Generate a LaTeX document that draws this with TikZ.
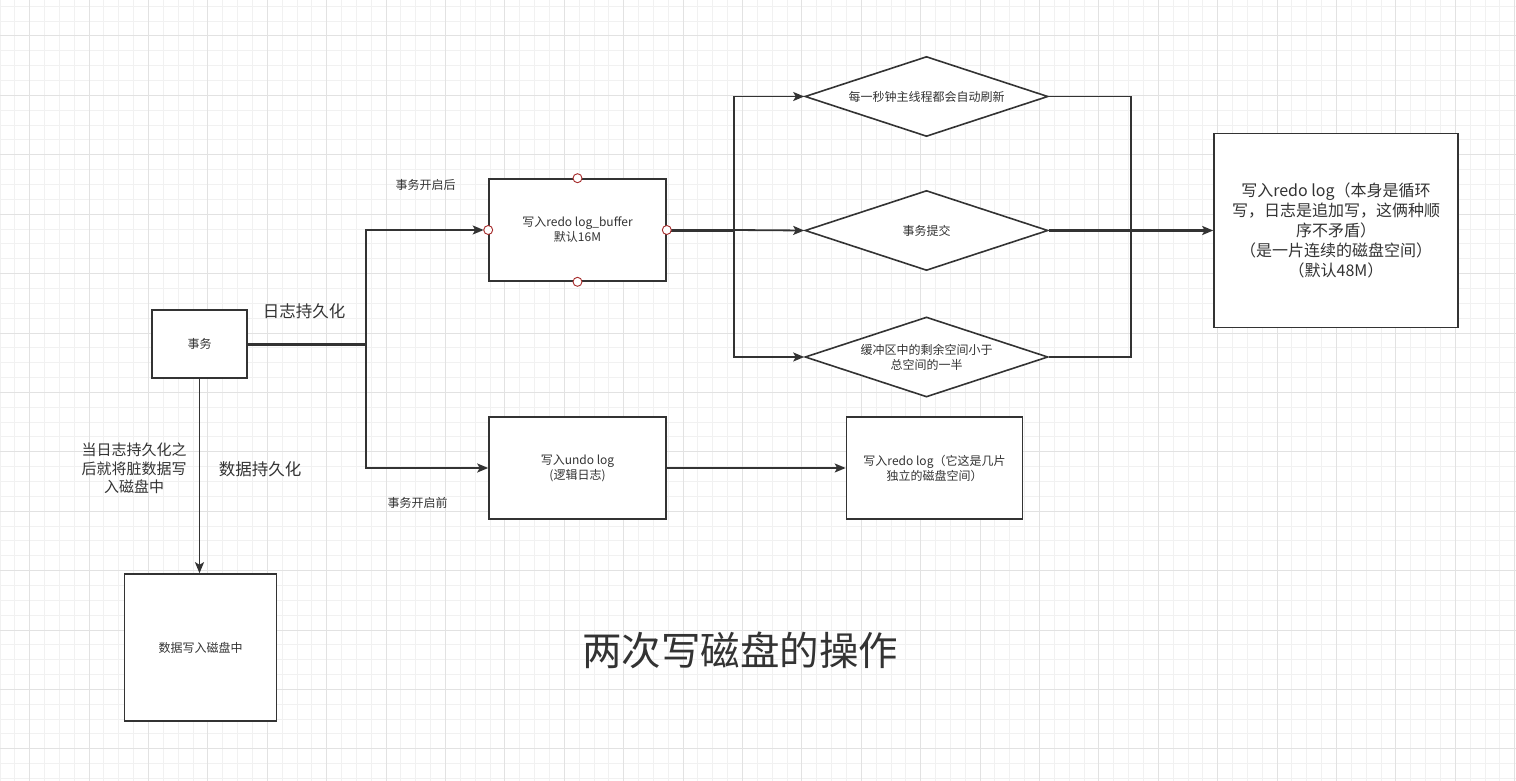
\documentclass[tikz,border=0pt]{standalone}
\usepackage{fontspec}
\setmainfont{Noto Sans CJK SC}
\usepackage{tikz}
\usetikzlibrary{positioning, arrows.meta, shapes.geometric}
\definecolor{LineGray}{HTML}{333333}
\definecolor{TextGray}{HTML}{333333}
\definecolor{GridMinor}{HTML}{F1F1F1}
\definecolor{GridMajor}{HTML}{E2E2E2}
\definecolor{PortRed}{HTML}{A52A2A}
\newcommand{\txtsmall}{\fontsize{12}{15}\selectfont}
\newcommand{\txtmid}{\fontsize{15}{18.5}\selectfont}
\newcommand{\txtlarge}{\fontsize{16.5}{20}\selectfont}
\newcommand{\txtbig}{\fontsize{16}{20}\selectfont}
\newcommand{\txttitle}{\fontsize{39.5}{46}\selectfont}

\begin{document}
\begin{tikzpicture}[
    x=1pt, y=-1pt,
    box/.style={rectangle, draw=LineGray, line width=1.6pt, fill=white, inner sep=0pt,
                align=center, text=TextGray, font=\txtsmall},
    decision/.style={diamond, draw=LineGray, line width=1.6pt, fill=white, inner sep=0pt,
                     shape aspect=3, minimum width=243, minimum height=80,
                     align=center, text=TextGray, font=\txtsmall},
    conn/.style={-{Stealth[length=11pt, width=9pt, inset=2.5pt]}, line width=1.8pt, draw=LineGray},
    line/.style={line width=1.8pt, draw=LineGray},
    thickline/.style={line width=3pt, draw=LineGray},
    lbl/.style={align=center, text=TextGray, font=\txtsmall},
    port/.style={draw=PortRed, fill=white, line width=0.9pt},
    gridminor/.style={draw=GridMinor, line width=1pt},
    gridmajor/.style={draw=GridMajor, line width=1pt}
]
  \useasboundingbox (0,0) rectangle (1516,781);
  \fill[white] (0,0) rectangle (1516,781);

  % Grid
  \foreach \i in {0,...,102}{
    \draw[gridminor] ({\i*14.85},0) -- ++(0,781);
  }
  \foreach \j in {0,...,52}{
    \draw[gridminor] (0,{6.3+\j*14.85}) -- ++(1516,0);
  }
  \foreach \i in {0,...,25}{
    \draw[gridmajor] ({29.7+\i*59.4},0) -- ++(0,781);
  }
  \foreach \j in {0,...,12}{
    \draw[gridmajor] (0,{36+\j*59.4}) -- ++(1516,0);
  }

  % Boxes
  \node[box, minimum width=95, minimum height=68] (tx) at (199.5,344) {事务};
  \node[box, minimum width=177, minimum height=102] (buf) at (577.5,230) {写入redo log\_buffer\\默认16M};
  \node[box, minimum width=177, minimum height=102] (undo) at (577.5,468) {写入undo log\\(逻辑日志)};
  \node[box, minimum width=176, minimum height=102] (redoseg) at (934.5,468) {写入redo log（它这是几片\\独立的磁盘空间）};
  \node[box, minimum width=152, minimum height=147] (disk) at (200.5,647.5) {数据写入磁盘中};
  \node[box, minimum width=244, minimum height=194, font=\txtbig] (redo) at (1336,230.5)
    {写入redo log（本身是循环\\写，日志是追加写，这俩种顺\\序不矛盾）\\（是一片连续的磁盘空间）\\（默认48M）};

  % Decisions
  \node[decision] (tick) at (926.5,96.5) {每一秒钟主线程都会自动刷新};
  \node[decision] (commit) at (926.5,230.5) {事务提交};
  \node[decision] (half) at (926.5,357) {缓冲区中的剩余空间小于\\总空间的一半};

  % Junctions
  \coordinate (split) at (366,344);
  \coordinate (fan) at (734,230);
  \coordinate (join) at (1131,230.5);

  % Connections
  \draw[thickline] (tx.east) -- (split);
  \draw[conn, shorten >=4.5pt] (split) |- (buf.west);
  \draw[conn] (split) |- (undo.west);
  \draw[conn] (tx.south) -- (tx.south |- disk.north);
  \draw[conn] (undo.east) -- (redoseg.west);
  \draw[thickline] (buf.east) -- (fan);
  \draw[conn] (fan) |- (tick.west);
  \draw[conn] (fan) -- (commit.west);
  \draw[conn] (fan) |- (half.west);
  \draw[line] (tick.east) -| (join);
  \draw[line] (half.east) -| (join);
  \draw[conn, line width=2.6pt] (commit.east) -- (redo.west);

  % Ports on the buffer box
  \foreach \p in {north, south, east, west}{
    \draw[port] (buf.\p) circle[radius=4.5];
  }

  % Labels
  \node[lbl] (afterlbl) at (425.5,185) {事务开启后};
  \node[lbl] (beforelbl) at (417.5,502.5) {事务开启前};
  \node[lbl, font=\txtlarge] (loglbl) at (304,311) {日志持久化};
  \node[lbl, font=\txtmid] (flushlbl) at (134,468.5) {当日志持久化之\\后就将脏数据写\\入磁盘中};
  \node[lbl, font=\txtlarge] (datalbl) at (260,469) {数据持久化};
  \node[lbl, font=\txttitle] (title) at (740,650) {两次写磁盘的操作};
\end{tikzpicture}
\end{document}
